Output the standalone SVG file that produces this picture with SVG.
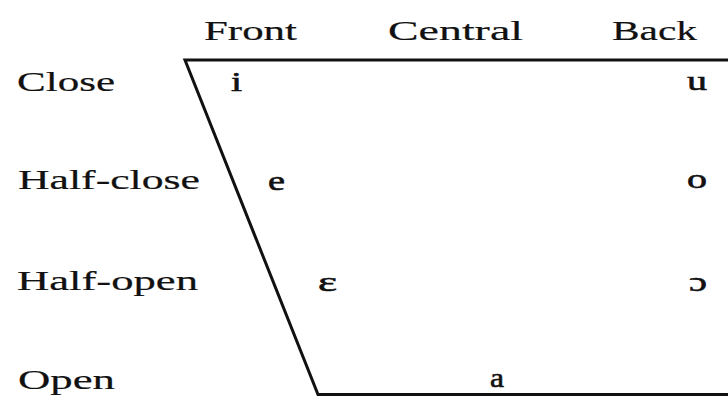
<svg xmlns="http://www.w3.org/2000/svg" width="728" height="396" viewBox="0 0 728 396">
<style>
text{font-family:"Liberation Serif","Times New Roman",serif;font-size:28px;fill:#111;stroke:#111;stroke-width:0.2;}
text.v{stroke-width:0.6;}
.ln{fill:none;stroke:#111;stroke-width:3;}
</style>
<rect width="728" height="396" fill="#fff"/>
<g id="connectors">
<polyline class="ln" points="728,60 185,60 318,394.5 728,394.5"/>
</g>
<g id="col-front"><text x="204" y="40" textLength="93" lengthAdjust="spacingAndGlyphs">Front</text></g>
<g id="col-central"><text x="388" y="40" textLength="135" lengthAdjust="spacingAndGlyphs">Central</text></g>
<g id="col-back"><text x="612" y="40" textLength="85" lengthAdjust="spacingAndGlyphs">Back</text></g>
<g id="row-close"><text x="17" y="91" textLength="98" lengthAdjust="spacingAndGlyphs">Close</text></g>
<g id="row-half-close"><text x="18" y="189" textLength="182" lengthAdjust="spacingAndGlyphs">Half-close</text></g>
<g id="row-half-open"><text x="17" y="290" textLength="181" lengthAdjust="spacingAndGlyphs">Half-open</text></g>
<g id="row-open"><text x="18" y="389" textLength="97" lengthAdjust="spacingAndGlyphs">Open</text></g>
<g id="v-i"><text class="v" x="231" y="91" textLength="11" lengthAdjust="spacingAndGlyphs">i</text></g>
<g id="v-u"><text class="v" x="687" y="90" textLength="20" lengthAdjust="spacingAndGlyphs">u</text></g>
<g id="v-e"><text class="v" x="268" y="190" textLength="17" lengthAdjust="spacingAndGlyphs">e</text></g>
<g id="v-o"><text class="v" x="687" y="188" textLength="20" lengthAdjust="spacingAndGlyphs">o</text></g>
<g id="v-epsilon"><text class="v" x="318" y="291" textLength="19" lengthAdjust="spacingAndGlyphs">ɛ</text></g>
<g id="v-open-o"><text class="v" x="689" y="291" textLength="18" lengthAdjust="spacingAndGlyphs">ɔ</text></g>
<g id="v-a"><text class="v" x="490" y="387" textLength="14" lengthAdjust="spacingAndGlyphs">a</text></g>
</svg>
